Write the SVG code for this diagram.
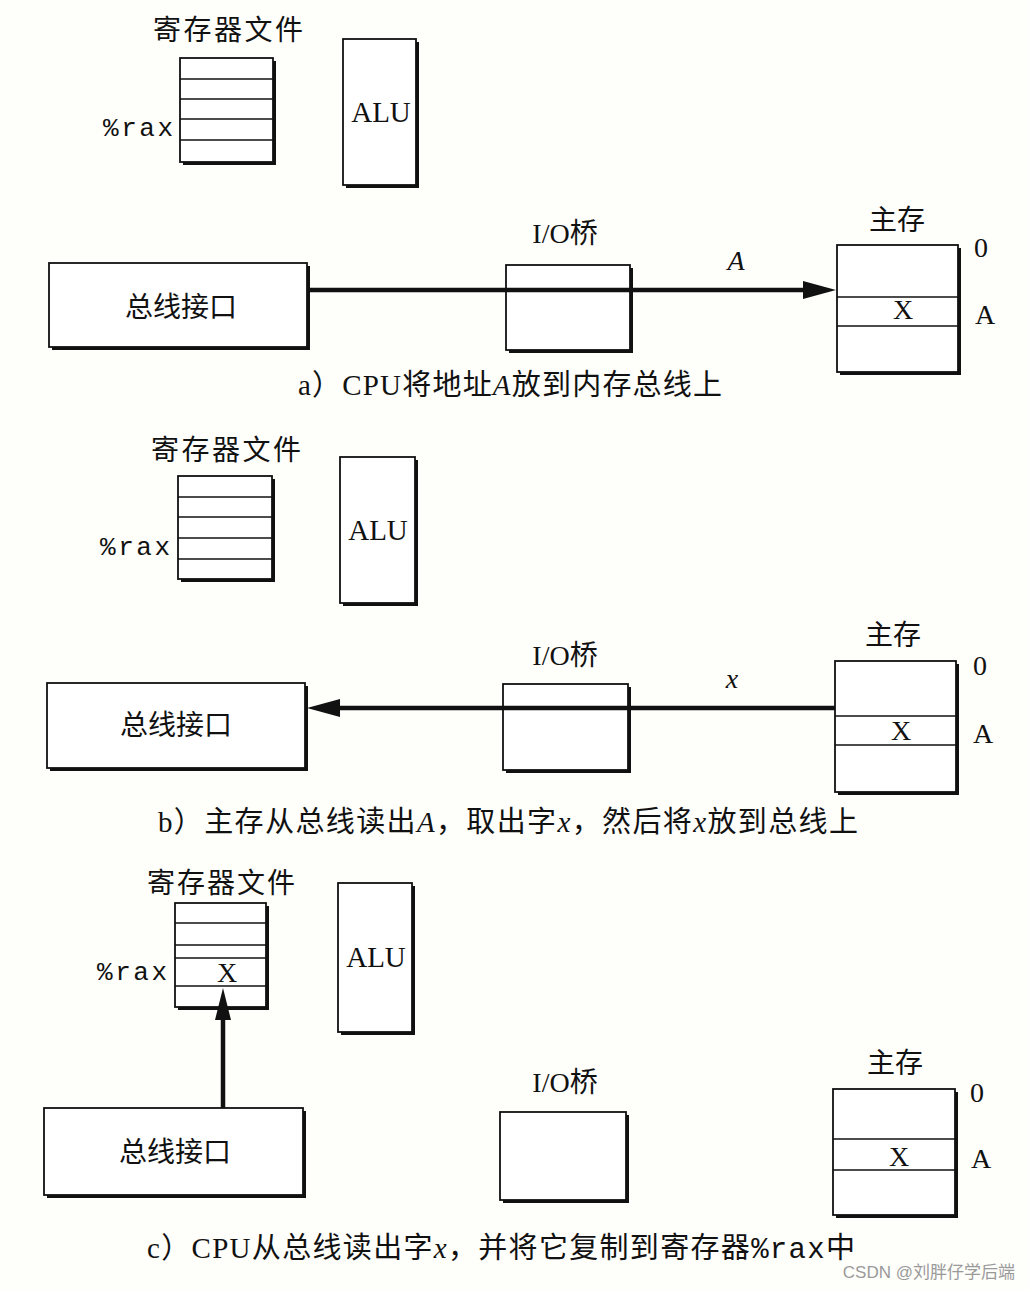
<svg xmlns="http://www.w3.org/2000/svg" width="1030" height="1290" viewBox="0 0 1030 1290">
<style>
.bg{fill:#fefefb}
.box{fill:#ffffff;stroke:#111;stroke-width:1.8}
.sh{fill:#111}
.row{stroke:#111;stroke-width:1.6}
.cjk{font-family:"Noto Sans CJK SC","Liberation Serif",sans-serif;fill:#111}
.ser{font-family:"Liberation Serif","Noto Sans CJK SC",serif;fill:#111}
.mono{font-family:"Liberation Mono",monospace;fill:#111}
.cap{font-family:"Liberation Serif","Noto Sans CJK SC",serif;fill:#111;font-size:29px}
.bus{stroke:#111;stroke-width:4.5;fill:none}
.head{fill:#111}
.wm{font-family:"Liberation Sans","Noto Sans CJK SC",sans-serif;fill:#9a9a9a;font-size:17px}
</style>
<rect class="bg" x="0" y="0" width="1030" height="1290"/>

<!-- Panel a -->
<g id="a-regfile">
<text class="cjk" x="228" y="40" font-size="28" text-anchor="middle" textLength="150">寄存器文件</text>
<rect class="sh" x="183" y="61" width="93" height="104"/>
<rect class="box" x="180" y="58" width="93" height="104"/>
<line class="row" x1="180" y1="79" x2="273" y2="79"/>
<line class="row" x1="180" y1="99" x2="273" y2="99"/>
<line class="row" x1="180" y1="119" x2="273" y2="119"/>
<line class="row" x1="180" y1="140" x2="273" y2="140"/>
<text class="mono" x="103" y="136" font-size="26" textLength="70">%rax</text>
</g>
<g id="a-alu">
<rect class="sh" x="346" y="42" width="73" height="146"/>
<rect class="box" x="343" y="39" width="73" height="146"/>
<text class="ser" x="381" y="122" font-size="29" text-anchor="middle">ALU</text>
</g>
<g id="a-busif">
<rect class="sh" x="52" y="266" width="258" height="84"/>
<rect class="box" x="49" y="263" width="258" height="84"/>
<text class="cjk" x="181" y="317" font-size="28" text-anchor="middle">总线接口</text>
</g>
<g id="a-iobridge">
<text class="ser" x="565" y="243" font-size="28" text-anchor="middle">I/O<tspan class="cjk">桥</tspan></text>
<rect class="sh" x="509" y="268" width="124" height="85"/>
<rect class="box" x="506" y="265" width="124" height="85"/>
</g>
<g id="a-mem">
<text class="cjk" x="897" y="230" font-size="28" text-anchor="middle">主存</text>
<rect class="sh" x="840" y="248" width="121" height="127"/>
<rect class="box" x="837" y="245" width="121" height="127"/>
<line class="row" x1="837" y1="297" x2="958" y2="297"/>
<line class="row" x1="837" y1="326" x2="958" y2="326"/>
<text class="ser" x="903" y="319" font-size="28" text-anchor="middle">X</text>
<text class="ser" x="981" y="257" font-size="28" text-anchor="middle">0</text>
<text class="ser" x="985" y="324" font-size="28" text-anchor="middle">A</text>
</g>
<text class="cap" x="298" y="395" textLength="424">a）CPU将地址<tspan font-style="italic">A</tspan>放到内存总线上</text>

<!-- Panel b -->
<g id="b-regfile">
<text class="cjk" x="226" y="460" font-size="28" text-anchor="middle" textLength="150">寄存器文件</text>
<rect class="sh" x="181" y="479" width="94" height="103"/>
<rect class="box" x="178" y="476" width="94" height="103"/>
<line class="row" x1="178" y1="497" x2="272" y2="497"/>
<line class="row" x1="178" y1="517" x2="272" y2="517"/>
<line class="row" x1="178" y1="538" x2="272" y2="538"/>
<line class="row" x1="178" y1="559" x2="272" y2="559"/>
<text class="mono" x="100" y="555" font-size="26" textLength="70">%rax</text>
</g>
<g id="b-alu">
<rect class="sh" x="343" y="460" width="75" height="146"/>
<rect class="box" x="340" y="457" width="75" height="146"/>
<text class="ser" x="378" y="540" font-size="29" text-anchor="middle">ALU</text>
</g>
<g id="b-busif">
<rect class="sh" x="50" y="686" width="258" height="85"/>
<rect class="box" x="47" y="683" width="258" height="85"/>
<text class="cjk" x="176" y="735" font-size="28" text-anchor="middle">总线接口</text>
</g>
<g id="b-iobridge">
<text class="ser" x="565" y="665" font-size="28" text-anchor="middle">I/O<tspan class="cjk">桥</tspan></text>
<rect class="sh" x="506" y="687" width="125" height="86"/>
<rect class="box" x="503" y="684" width="125" height="86"/>
</g>
<g id="b-mem">
<text class="cjk" x="893" y="645" font-size="28" text-anchor="middle">主存</text>
<rect class="sh" x="838" y="664" width="121" height="131"/>
<rect class="box" x="835" y="661" width="121" height="131"/>
<line class="row" x1="835" y1="716" x2="956" y2="716"/>
<line class="row" x1="835" y1="745" x2="956" y2="745"/>
<text class="ser" x="901" y="740" font-size="28" text-anchor="middle">X</text>
<text class="ser" x="980" y="675" font-size="28" text-anchor="middle">0</text>
<text class="ser" x="983" y="743" font-size="28" text-anchor="middle">A</text>
</g>
<text class="cap" x="158" y="832" textLength="700">b）主存从总线读出<tspan font-style="italic">A</tspan>，取出字<tspan font-style="italic">x</tspan>，然后将<tspan font-style="italic">x</tspan>放到总线上</text>

<!-- Panel c -->
<g id="c-regfile">
<text class="cjk" x="221" y="893" font-size="28" text-anchor="middle" textLength="148">寄存器文件</text>
<rect class="sh" x="178" y="906" width="91" height="104"/>
<rect class="box" x="175" y="903" width="91" height="104"/>
<line class="row" x1="175" y1="923" x2="266" y2="923"/>
<line class="row" x1="175" y1="945" x2="266" y2="945"/>
<line class="row" x1="175" y1="958" x2="266" y2="958"/>
<line class="row" x1="175" y1="986" x2="266" y2="986"/>
<text class="ser" x="227" y="982" font-size="28" text-anchor="middle">X</text>
<text class="mono" x="97" y="980" font-size="26" textLength="70">%rax</text>
</g>
<g id="c-alu">
<rect class="sh" x="341" y="886" width="74" height="149"/>
<rect class="box" x="338" y="883" width="74" height="149"/>
<text class="ser" x="376" y="967" font-size="29" text-anchor="middle">ALU</text>
</g>
<g id="c-busif">
<rect class="sh" x="47" y="1111" width="259" height="87"/>
<rect class="box" x="44" y="1108" width="259" height="87"/>
<text class="cjk" x="175" y="1162" font-size="28" text-anchor="middle">总线接口</text>
</g>
<g id="c-iobridge">
<text class="ser" x="565" y="1092" font-size="28" text-anchor="middle">I/O<tspan class="cjk">桥</tspan></text>
<rect class="sh" x="503" y="1115" width="126" height="88"/>
<rect class="box" x="500" y="1112" width="126" height="88"/>
</g>
<g id="c-mem">
<text class="cjk" x="895" y="1073" font-size="28" text-anchor="middle">主存</text>
<rect class="sh" x="836" y="1092" width="122" height="126"/>
<rect class="box" x="833" y="1089" width="122" height="126"/>
<line class="row" x1="833" y1="1139" x2="955" y2="1139"/>
<line class="row" x1="833" y1="1170" x2="955" y2="1170"/>
<text class="ser" x="899" y="1166" font-size="28" text-anchor="middle">X</text>
<text class="ser" x="977" y="1102" font-size="28" text-anchor="middle">0</text>
<text class="ser" x="981" y="1168" font-size="28" text-anchor="middle">A</text>
</g>
<text class="cap" x="147" y="1258" textLength="708">c）CPU从总线读出字<tspan font-style="italic">x</tspan>，并将它复制到寄存器<tspan class="mono">%rax</tspan>中</text>

<!-- Connectors -->
<g id="connectors">
<line class="bus" x1="307" y1="290" x2="806" y2="290"/>
<polygon class="head" points="803,281 836,290 803,299"/>
<text class="ser" x="736" y="270" font-size="28" font-style="italic" text-anchor="middle">A</text>

<line class="bus" x1="835" y1="708" x2="338" y2="708"/>
<polygon class="head" points="307,708 340,699 340,717"/>
<text class="ser" x="732" y="688" font-size="28" font-style="italic" text-anchor="middle">x</text>

<line class="bus" x1="223" y1="1108" x2="223" y2="1017"/>
<polygon class="head" points="223,988 215,1020 231,1020"/>
</g>

<text class="wm" x="1015" y="1278" text-anchor="end">CSDN @刘胖仔学后端</text>
</svg>
